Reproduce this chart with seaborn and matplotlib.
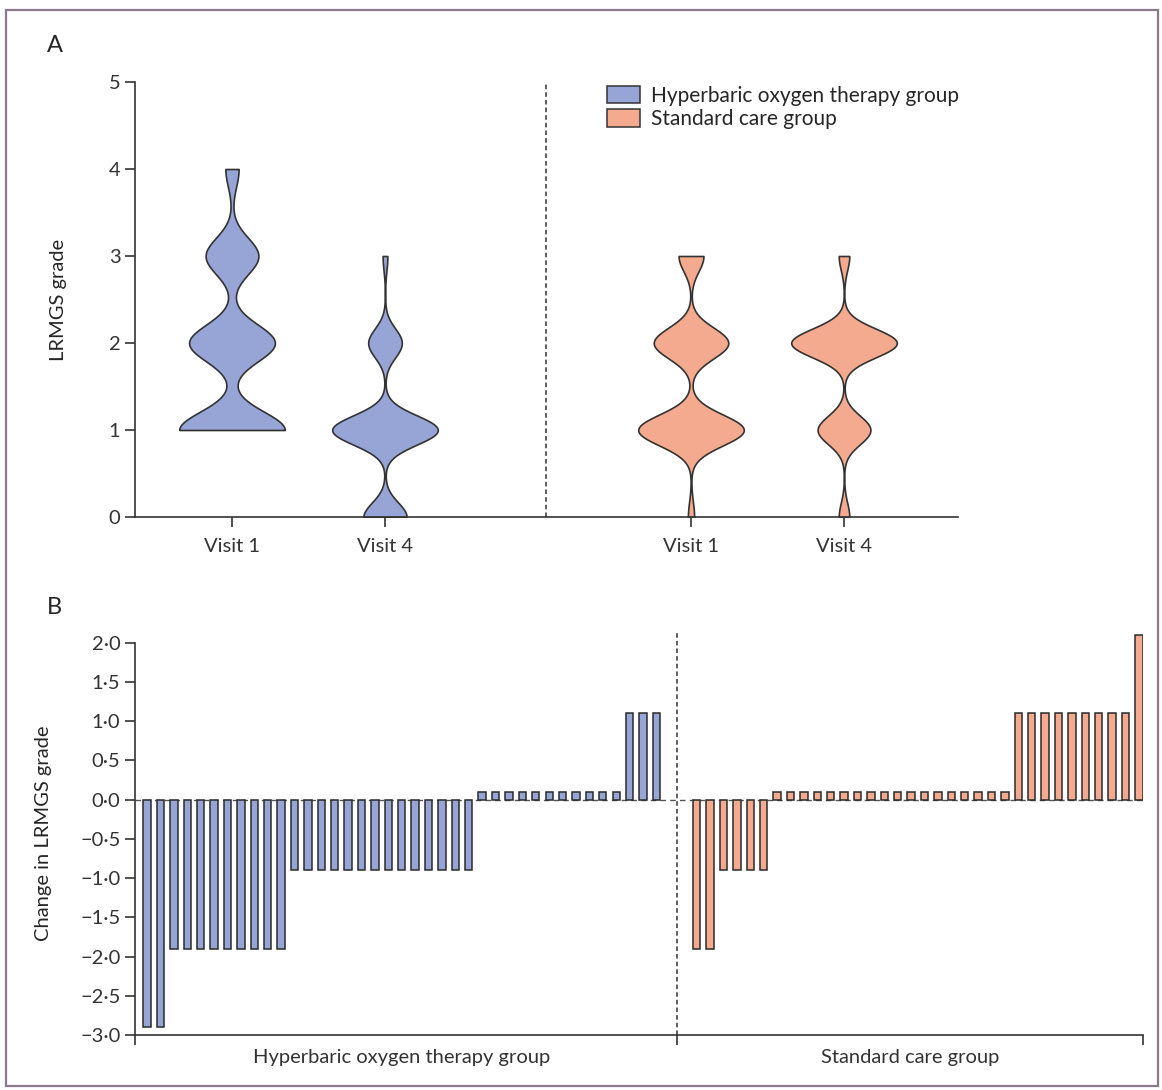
import numpy as np
import pandas as pd
import seaborn as sns
import matplotlib.pyplot as plt
from matplotlib.patches import Patch, Rectangle

HBOT = "Hyperbaric oxygen therapy group"
SC = "Standard care group"
COLORS = {HBOT: "#97a4d6", SC: "#f4aa8e"}

# panel A: LRMGS grade counts (grades 0..4) per visit
GRADES = [0, 1, 2, 3, 4]
hbot_visit1 = [0, 16, 13, 8, 2]
hbot_visit4 = [9, 22, 7, 1, 0]
sc_visit1 = [1, 17, 12, 4, 0]
sc_visit4 = [2, 10, 20, 2, 0]
visit_labels = ["Visit 1", "Visit 4", "Visit 1", "Visit 4"]
visit_pos = [0, 1, 3, 4]

# panel B: change in grade per patient, as drawn (zero shown as a small stub)
hbot_change = [-2.9, -2.9,
               -1.9, -1.9, -1.9, -1.9, -1.9, -1.9, -1.9, -1.9, -1.9,
               -0.9, -0.9, -0.9, -0.9, -0.9, -0.9, -0.9, -0.9, -0.9, -0.9, -0.9, -0.9, -0.9, -0.9,
               0.1, 0.1, 0.1, 0.1, 0.1, 0.1, 0.1, 0.1, 0.1, 0.1, 0.1,
               1.1, 1.1, 1.1]
sc_change = [-1.9, -1.9,
             -0.9, -0.9, -0.9, -0.9,
             0.1, 0.1, 0.1, 0.1, 0.1, 0.1, 0.1, 0.1, 0.1, 0.1, 0.1, 0.1, 0.1, 0.1, 0.1, 0.1, 0.1, 0.1,
             1.1, 1.1, 1.1, 1.1, 1.1, 1.1, 1.1, 1.1, 1.1,
             2.1]
b_yticks = [-3.0, -2.5, -2.0, -1.5, -1.0, -0.5, 0.0, 0.5, 1.0, 1.5, 2.0]

sns.set_theme(style="ticks")
plt.rcParams['font.family'] = ['Lato', 'DejaVu Sans']
plt.rcParams['axes.edgecolor'] = '#333333'
plt.rcParams['xtick.color'] = '#333333'
plt.rcParams['ytick.color'] = '#333333'
plt.rcParams['text.color'] = '#262626'
plt.rcParams['axes.labelcolor'] = '#262626'

W, H = 1162, 1090
fig = plt.figure(figsize=(W / 100, H / 100), dpi=100)
fig.patch.set_facecolor('white')


def px_axes(left, top, right, bottom):
    return fig.add_axes([left / W, 1 - bottom / H, (right - left) / W, (bottom - top) / H])


# ---------------- panel A ----------------
rows = []
for pos, grp, counts in zip(visit_pos, [HBOT, HBOT, SC, SC],
                            [hbot_visit1, hbot_visit4, sc_visit1, sc_visit4]):
    for g, c in zip(GRADES, counts):
        rows += [(pos, grp, g)] * c
df_a = pd.DataFrame(rows, columns=["pos", "group", "grade"])

axA = px_axes(135, 82, 958, 517)
sns.violinplot(data=df_a, x="pos", y="grade", hue="group", native_scale=True,
               dodge=False, palette=COLORS, cut=0, bw_adjust=0.48,
               density_norm="width", width=0.69, inner=None, linewidth=1.2,
               linecolor="#333333", saturation=1, gridsize=300, legend=False, ax=axA)
axA.axvline(2.05, color="#333333", ls=(0, (3, 2)), lw=1.1)
axA.set_xlim(-0.634, 4.745)
axA.set_ylim(0, 5)
axA.set_yticks(range(6))
axA.set_xticks(visit_pos, visit_labels)
axA.tick_params(labelsize=14.5, length=7, width=1.2)
axA.tick_params(axis="x", pad=8)
axA.set_xlabel("")
axA.set_ylabel("LRMGS grade", fontsize=14.5, labelpad=30)
sns.despine(ax=axA)
for s in axA.spines.values():
    s.set_linewidth(1.2)

handles = [Patch(facecolor=COLORS[HBOT], edgecolor="#333333", lw=1.1),
           Patch(facecolor=COLORS[SC], edgecolor="#333333", lw=1.1)]
axA.legend(handles, [HBOT, SC], loc="upper left",
           bbox_to_anchor=((607 - 135) / 823, 1 - (86 - 82) / 435),
           frameon=False, fontsize=15, handlelength=1.6, handleheight=0.9,
           handletextpad=0.5, labelspacing=0.15, borderaxespad=0, borderpad=0)

# ---------------- panel B ----------------
gap = 2
pos_b = list(np.arange(len(hbot_change))) + list(np.arange(len(sc_change)) + len(hbot_change) + gap)
df_b = pd.DataFrame({"pos": pos_b,
                     "change": hbot_change + sc_change,
                     "group": [HBOT] * len(hbot_change) + [SC] * len(sc_change)})
divider = len(hbot_change) - 1 + (gap + 1) / 2

axB = px_axes(135, 631, 1143, 1035)
sns.barplot(data=df_b, x="pos", y="change", hue="group", native_scale=True,
            dodge=False, palette=COLORS, width=0.55, edgecolor="#2b2b2b",
            linewidth=1.1, saturation=1, errorbar=None, legend=False, ax=axB)
axB.axhline(0, color="#555555", ls=(0, (4, 3)), lw=1.0, zorder=0.5)
axB.axvline(divider, color="#333333", ls=(0, (3, 2)), lw=1.1)
xmin, xmax = -0.9, len(pos_b) + gap - 1 + 0.3
axB.set_xlim(xmin, xmax)
axB.set_ylim(-3.0, 2.15)
axB.set_yticks(b_yticks, [f"{v:.1f}".replace(".", "·").replace("-", "−") for v in b_yticks])
axB.set_xticks([xmin, divider, xmax], ["", "", ""])
axB.set_xticks([(len(hbot_change) - 1) / 2, (divider + xmax) / 2], [HBOT, SC], minor=True)
axB.tick_params(axis="x", which="minor", length=0, labelsize=14.5, pad=10)
axB.tick_params(labelsize=14.5, length=7, width=1.2)
axB.set_xlabel("")
axB.set_ylabel("Change in LRMGS grade", fontsize=14.5, labelpad=20)
sns.despine(ax=axB)
axB.spines["left"].set_bounds(-3.0, 2.0)
for s in axB.spines.values():
    s.set_linewidth(1.2)

fig.text(47 / W, 1 - 45 / H, "A", fontsize=17, va="center")
fig.text(47 / W, 1 - 607 / H, "B", fontsize=17, va="center")

fig.patches.append(Rectangle((6 / W, 4 / H), (W - 10) / W, (H - 14) / H,
                             transform=fig.transFigure, fill=False,
                             edgecolor="#8a7a8a", lw=1.6))

fig.savefig("out.png", dpi=100)
